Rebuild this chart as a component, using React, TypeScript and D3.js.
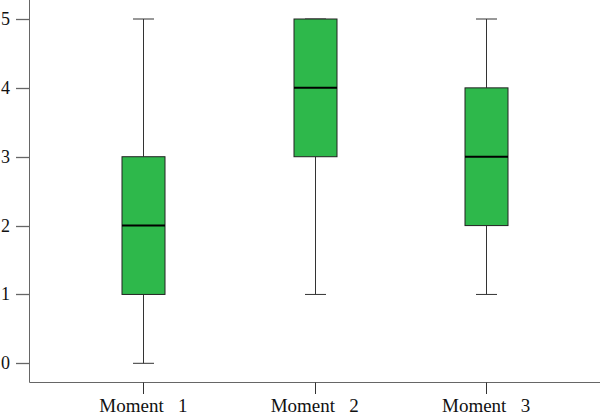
import React from "react"
import * as d3 from "d3"

const moments = ["Moment   1", "Moment   2", "Moment   3"]
const mins = [0, 1, 1]
const q1s = [1, 3, 2]
const medians = [2, 4, 3]
const q3s = [3, 5, 4]
const maxs = [5, 5, 5]
const yTicks = [0, 1, 2, 3, 4, 5]

export default function App() {
    const width = 600, height = 412
    const axisX = 29.5, axisY = 382.5
    const boxW = 43, capW = 21
    const boxColor = '#2eb84b', axisColor = '#666'

    const xScale = d3.scalePoint<string>()
        .domain(moments)
        .range([axisX, width])
        .padding(0.665)

    const yScale = d3.scaleLinear()
        .domain([0, 5])
        .range([363.3, 19])

    return (
        <svg width={width} height={height}
            style={{ position: 'absolute', left: 0, top: 0, background: 'white' }}
            fontFamily="'Liberation Serif', 'Times New Roman', serif">
            {/* axes */}
            <line x1={axisX} x2={axisX} y1={0} y2={axisY} stroke={axisColor} strokeWidth={1} />
            <line x1={axisX} x2={width} y1={axisY} y2={axisY} stroke={axisColor} strokeWidth={1} />
            {yTicks.map((t) => (
                <g key={t}>
                    <line x1={16} x2={axisX} y1={Math.round(yScale(t)) + 0.5} y2={Math.round(yScale(t)) + 0.5}
                        stroke={axisColor} strokeWidth={1.3} />
                    <text x={10} y={yScale(t) + 6} textAnchor="end" fontSize={18} fill="#111">{t}</text>
                </g>
            ))}
            {moments.map((m) => (
                <g key={m}>
                    <line x1={Math.round(xScale(m)!) + 0.5} x2={Math.round(xScale(m)!) + 0.5}
                        y1={axisY} y2={394} stroke="#333" strokeWidth={1} />
                    <text x={xScale(m)} y={412} textAnchor="middle" fontSize={19} fill="#111"
                        style={{ whiteSpace: 'pre' }}>{m}</text>
                </g>
            ))}
            {/* boxes */}
            {moments.map((m, i) => {
                const cx = Math.round(xScale(m)!) + 0.5
                return (
                    <g key={'b' + m}>
                        <line x1={cx} x2={cx} y1={yScale(maxs[i])} y2={yScale(q3s[i])} stroke="#333" />
                        <line x1={cx} x2={cx} y1={yScale(q1s[i])} y2={yScale(mins[i])} stroke="#333" />
                        <line x1={cx - capW / 2} x2={cx + capW / 2} y1={yScale(maxs[i])} y2={yScale(maxs[i])} stroke="#333" />
                        <line x1={cx - capW / 2} x2={cx + capW / 2} y1={yScale(mins[i])} y2={yScale(mins[i])} stroke="#333" />
                        <rect x={cx - boxW / 2} y={yScale(q3s[i])} width={boxW}
                            height={yScale(q1s[i]) - yScale(q3s[i])}
                            fill={boxColor} stroke="#222" strokeWidth={1} />
                        <line x1={cx - boxW / 2} x2={cx + boxW / 2} y1={yScale(medians[i])} y2={yScale(medians[i])}
                            stroke="#000" strokeWidth={2} />
                    </g>
                )
            })}
        </svg>
    )
}
